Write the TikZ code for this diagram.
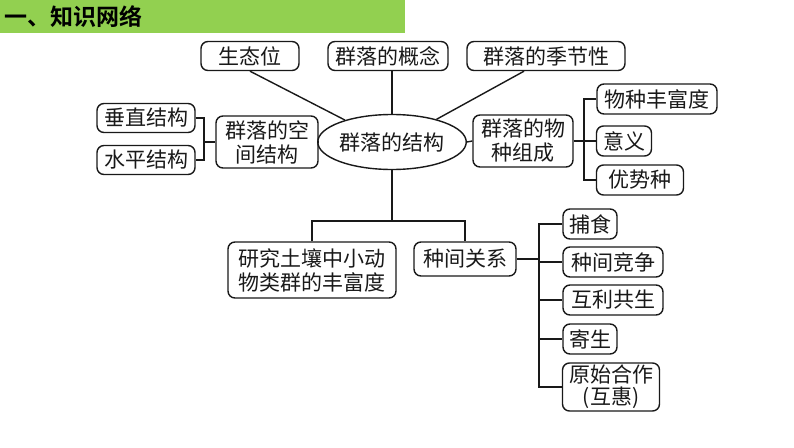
\documentclass[tikz,border=0pt]{standalone}
\usepackage{fontspec}
\usetikzlibrary{shapes.geometric,calc}
\newfontfamily\cjk{Noto Sans CJK SC}
\newfontfamily\cjkbold{Noto Sans CJK SC Bold}
\definecolor{hdrgreen}{RGB}{146,208,80}
\definecolor{inkc}{RGB}{25,25,25}
\tikzset{
  box/.style={draw=inkc, rounded corners=7pt, line width=1.4pt, inner sep=0pt,
    minimum height=29pt, align=center, text=inkc,
    font=\cjk\fontsize{21}{24}\selectfont},
  oval/.style={draw=inkc, ellipse, line width=1.4pt, inner sep=0pt,
    minimum width=123pt, minimum height=55pt, text=inkc,
    font=\cjk\fontsize{21}{24}\selectfont},
  link/.style={draw=inkc, line width=1.4pt}
}
\begin{document}
\begin{tikzpicture}[x=1pt,y=-1pt]
\fill[white] (0,0) rectangle (794,447);
\useasboundingbox (0,0) rectangle (794,447);
\fill[hdrgreen] (0,0) rectangle (405,33) ;
\node[anchor=west, inner sep=0pt, font=\cjkbold\fontsize{23}{26}\selectfont] (hdr) at (4,17) {一、知识网络};

\node[oval] (ell) at (392,142) {群落的结构};
\node[box, minimum width=98pt] (sty) at (250,56) {生态位};
\node[box, minimum width=120pt] (gn) at (388,56) {群落的概念};
\node[box, minimum width=158pt] (jj) at (546,56) {群落的季节性};
\node[box, minimum width=102pt, minimum height=52pt] (kj) at (267,142) {群落的空\\间结构};
\node[box, minimum width=98pt] (cz) at (146,118) {垂直结构};
\node[box, minimum width=98pt] (sp) at (146,160) {水平结构};
\node[box, minimum width=100pt, minimum height=52pt] (zc) at (523,141) {群落的物\\种组成};
\node[box, minimum width=120pt, minimum height=30pt] (fu) at (657,99) {物种丰富度};
\node[box, minimum width=55pt, minimum height=30pt] (yy) at (624,141) {意义};
\node[box, minimum width=87pt, minimum height=30pt] (ysz) at (640,180) {优势种};
\node[box, minimum width=168pt, minimum height=56pt] (yj) at (312,270) {研究土壤中小动\\物类群的丰富度};
\node[box, minimum width=102pt, minimum height=34pt] (zj) at (465,259) {种间关系};
\node[box, minimum width=54pt, minimum height=30pt] (bs) at (590,224) {捕食};
\node[box, minimum width=100pt, minimum height=30pt] (jz) at (613,262) {种间竞争};
\node[box, minimum width=100pt, minimum height=30pt] (hl) at (613,300) {互利共生};
\node[box, minimum width=54pt, minimum height=30pt] (jsh) at (590,339) {寄生};
\node[box, minimum width=97pt, minimum height=48pt, font=\cjk\fontsize{21}{22}\selectfont] (yh) at (611,387) {原始合作\\(互惠)};

\coordinate (bl) at (204,142);
\coordinate (br) at (584,141);
\coordinate (jt) at (392,221);
\coordinate (bz) at (539,259);

\draw[link] (sty.south) -- (ell.155);
\draw[link] (gn.south -| ell.north) -- (ell.north);
\draw[link] ([xshift=-22pt]jj.south) -- (ell.27);
\draw[link] (ell.west) -- (kj.east);
\draw[link] (cz.east) -| (bl) |- (sp.east);
\draw[link] (bl) -- (kj.west);
\draw[link] (ell.east) -- (zc.east -| zc.west);
\draw[link] (fu.west) -| (br) |- (ysz.west);
\draw[link] (zc.east) -- (yy.west);
\draw[link] (ell.south) -- (jt);
\draw[link] (yj.north) |- (jt) -| (zj.north);
\draw[link] (zj.east) -- (bz);
\draw[link] (bs.west) -| (bz) |- (yh.west);
\draw[link] (bz |- jz.west) -- (jz.west);
\draw[link] (bz |- hl.west) -- (hl.west);
\draw[link] (bz |- jsh.west) -- (jsh.west);
\end{tikzpicture}
\end{document}
